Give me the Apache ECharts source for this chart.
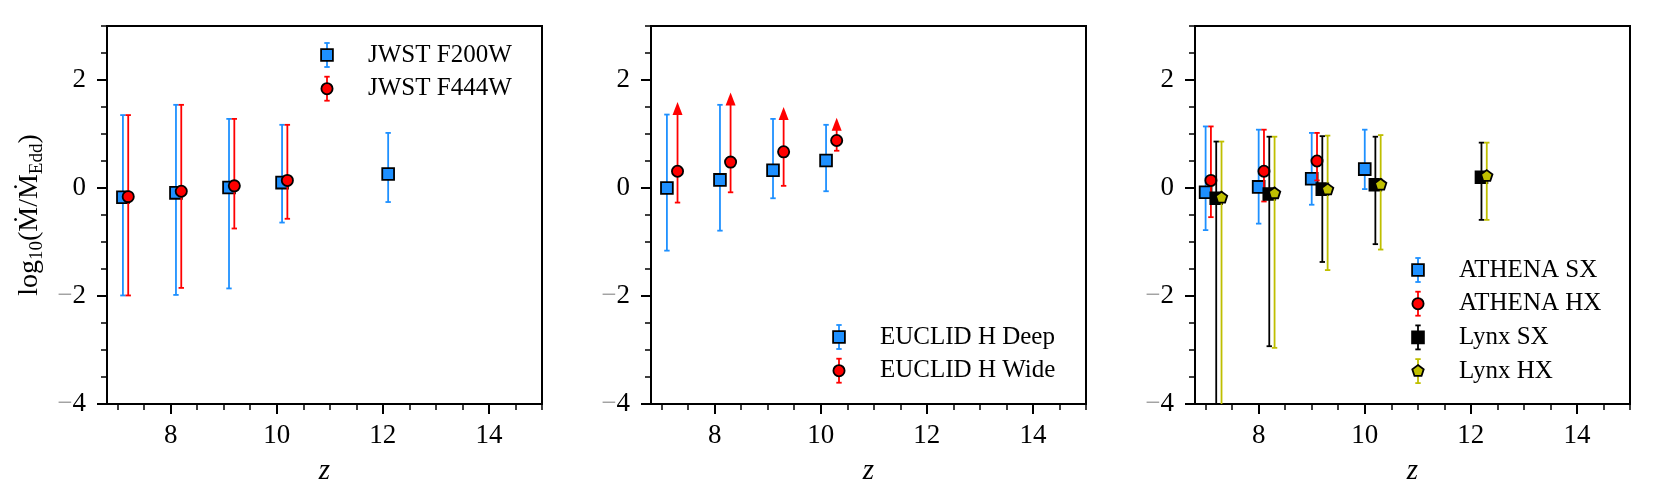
<!DOCTYPE html>
<html>
<head>
<meta charset="utf-8">
<script src="https://cdn.jsdelivr.net/npm/echarts@6/dist/echarts.min.js"></script>
<style>
  html, body { margin: 0; background: #fff; }
  #chart { width: 1671px; height: 503px; }
</style>
</head>
<body>
<div id="chart"></div>
<script>
const FONT = '"Liberation Serif", "DejaVu Serif", serif';
const BLUE = "#1e90ff";
const RED = "#ff0000";
const BLACK = "#000000";
const OLIVE = "#bfbf00";

// each point: [z, log10(Mdot/Medd), lower end of bar, upper end of bar]
const jwstF200W = [[7.1, -0.17, -1.99, 1.35], [8.1, -0.09, -1.98, 1.54], [9.1, 0.01, -1.86, 1.28], [10.1, 0.10, -0.64, 1.17], [12.1, 0.26, -0.26, 1.02]];
const jwstF444W = [[7.2, -0.16, -1.99, 1.35], [8.2, -0.06, -1.85, 1.54], [9.2, 0.04, -0.75, 1.28], [10.2, 0.14, -0.57, 1.17]];
const euclidDeep = [[7.1, 0.00, -1.16, 1.36], [8.1, 0.15, -0.79, 1.54], [9.1, 0.33, -0.19, 1.28], [10.1, 0.51, -0.06, 1.17]];
const euclidWide = [[7.3, 0.31, -0.27, 1.47], [8.3, 0.48, -0.08, 1.65], [9.3, 0.67, 0.04, 1.38], [10.3, 0.88, 0.69, 1.18]];
const athenaSX = [[7.0, -0.08, -0.78, 1.14], [8.0, 0.02, -0.66, 1.08], [9.0, 0.17, -0.31, 1.02], [10.0, 0.35, -0.02, 1.08]];
const athenaHX = [[7.1, 0.14, -0.54, 1.14], [8.1, 0.31, -0.25, 1.08], [9.1, 0.50, 0.14, 1.02]];
const lynxSX = [[7.2, -0.19, -4.5, 0.86], [8.2, -0.11, -2.93, 0.95], [9.2, -0.02, -1.37, 0.96], [10.2, 0.06, -1.04, 0.95], [12.2, 0.20, -0.59, 0.84]];
const lynxHX = [[7.3, -0.18, -4.5, 0.86], [8.3, -0.10, -2.96, 0.95], [9.3, -0.03, -1.52, 0.97], [10.3, 0.06, -1.14, 0.98], [12.3, 0.22, -0.59, 0.84]];

const zRange = [6.8, 15];
const yRange = [-4, 3];
const xMajor = [8, 10, 12, 14];
const xMinor = [7, 7.5, 8.5, 9, 9.5, 10.5, 11, 11.5, 12.5, 13, 13.5, 14.5, 15];
const yMajor = [-4, -2, 0, 2];
const yMinor = [-3.5, -3, -2.5, -1.5, -1, -0.5, 0.5, 1, 1.5, 2.5, 3];

const GRID_TOP = 26;
const GRID_W = 435;
const GRID_H = 378;

const panels = [
  {
    left: 107,
    yTitle: true,
    legend: { x: 327, y: 55 },
    sets: [
      { name: "JWST F200W", data: jwstF200W, color: BLUE, marker: "square" },
      { name: "JWST F444W", data: jwstF444W, color: RED, marker: "circle" },
    ],
  },
  {
    left: 651,
    legend: { x: 839, y: 337 },
    sets: [
      { name: "EUCLID H Deep", data: euclidDeep, color: BLUE, marker: "square" },
      { name: "EUCLID H Wide", data: euclidWide, color: RED, marker: "circle", lowerLimit: true },
    ],
  },
  {
    left: 1195,
    legend: { x: 1418, y: 270 },
    sets: [
      { name: "ATHENA SX", data: athenaSX, color: BLUE, marker: "square" },
      { name: "ATHENA HX", data: athenaHX, color: RED, marker: "circle" },
      { name: "Lynx SX", data: lynxSX, color: BLACK, marker: "square" },
      { name: "Lynx HX", data: lynxHX, color: OLIVE, marker: "pentagon" },
    ],
  },
];

function markerShape(kind, x, y, fill) {
  const style = { fill, stroke: "#000", lineWidth: 1.8 };
  if (kind === "square") {
    return { type: "rect", shape: { x: x - 5.9, y: y - 5.9, width: 11.8, height: 11.8 }, style };
  }
  if (kind === "circle") {
    return { type: "circle", shape: { cx: x, cy: y, r: 5.6 }, style };
  }
  const points = [];
  for (let k = 0; k < 5; k++) {
    const a = -Math.PI / 2 + (k * 2 * Math.PI) / 5;
    points.push([x + 6 * Math.cos(a), y + 6 * Math.sin(a)]);
  }
  return { type: "polygon", shape: { points }, style };
}

function errorGlyph(x, y, yLo, yHi, set, asLegend) {
  const bar = { stroke: set.color, lineWidth: 1.8 };
  const cap = 2.7;
  const parts = [
    { type: "line", shape: { x1: x, y1: yLo, x2: x, y2: yHi }, style: bar },
    { type: "line", shape: { x1: x - cap, y1: yLo, x2: x + cap, y2: yLo }, style: bar },
  ];
  if (set.lowerLimit && !asLegend) {
    parts.push({
      type: "polygon",
      shape: { points: [[x, yHi - 6.5], [x - 5, yHi + 6.5], [x + 5, yHi + 6.5]] },
      style: { fill: set.color },
    });
  } else {
    parts.push({ type: "line", shape: { x1: x - cap, y1: yHi, x2: x + cap, y2: yHi }, style: bar });
  }
  parts.push(markerShape(set.marker, x, y, set.color));
  return parts;
}

function tickLabel(value) {
  return value < 0 ? "{m|\u2212}{d|" + Math.abs(value) + "}" : "{d|" + value + "}";
}

const grid = [];
const xAxis = [];
const yAxis = [];
const series = [];
const graphic = [];

panels.forEach((panel, i) => {
  grid.push({
    left: panel.left, top: GRID_TOP, width: GRID_W, height: GRID_H,
    show: true, borderColor: "#000", borderWidth: 2, backgroundColor: "transparent",
  });

  const labelStyle = {
    color: "#000", fontFamily: FONT, fontSize: 27,
    rich: {
      d: { color: "#000", fontFamily: FONT, fontSize: 27 },
      m: { color: "#9c9c9c", fontFamily: FONT, fontSize: 27 },
    },
  };

  xAxis.push({
    type: "value", gridIndex: i, position: "bottom", min: zRange[0], max: zRange[1],
    axisLine: { show: false, onZero: false },
    axisTick: { show: true, length: 10, customValues: xMajor, lineStyle: { color: "#000", width: 2 } },
    axisLabel: { customValues: xMajor, margin: 18, formatter: tickLabel, ...labelStyle },
    splitLine: { show: false },
    name: "z", nameLocation: "middle", nameGap: 53,
    nameTextStyle: { fontFamily: FONT, fontSize: 29, fontStyle: "italic", color: "#000" },
  });
  xAxis.push({
    type: "value", gridIndex: i, position: "bottom", min: zRange[0], max: zRange[1],
    axisLine: { show: false, onZero: false },
    axisTick: { show: true, length: 6, customValues: xMinor, lineStyle: { color: "#000", width: 1.5 } },
    axisLabel: { show: false },
    splitLine: { show: false },
  });

  const yMain = {
    type: "value", gridIndex: i, position: "left", min: yRange[0], max: yRange[1],
    axisLine: { show: false, onZero: false },
    axisTick: { show: true, length: 10, customValues: yMajor, lineStyle: { color: "#000", width: 2 } },
    axisLabel: { customValues: yMajor, margin: 21, formatter: tickLabel, ...labelStyle },
    splitLine: { show: false },
  };
  if (panel.yTitle) {
    Object.assign(yMain, {
      name: "{t|log}{s|10}{t|(\u1E40/\u1E40}{s|Edd}{t|)}",
      nameLocation: "middle", nameRotate: 90, nameGap: 60,
      nameTextStyle: {
        color: "#000",
        rich: {
          t: { fontFamily: FONT, fontSize: 28, lineHeight: 34, color: "#000" },
          s: { fontFamily: FONT, fontSize: 19, lineHeight: 22, verticalAlign: "bottom", color: "#000" },
        },
      },
    });
  }
  yAxis.push(yMain);
  yAxis.push({
    type: "value", gridIndex: i, position: "left", min: yRange[0], max: yRange[1],
    axisLine: { show: false, onZero: false },
    axisTick: { show: true, length: 6, customValues: yMinor, lineStyle: { color: "#000", width: 1.5 } },
    axisLabel: { show: false },
    splitLine: { show: false },
  });

  panel.sets.forEach((set) => {
    series.push({
      name: set.name,
      type: "custom",
      xAxisIndex: 2 * i,
      yAxisIndex: 2 * i,
      clip: true,
      data: set.data,
      encode: { x: 0, y: 1 },
      renderItem: (params, api) => {
        const z = api.value(0);
        const p = api.coord([z, api.value(1)]);
        const lo = api.coord([z, api.value(2)]);
        const hi = api.coord([z, api.value(3)]);
        return { type: "group", children: errorGlyph(p[0], p[1], lo[1], hi[1], set, false) };
      },
    });
  });

  // legend, drawn with the same glyphs as the data
  panel.sets.forEach((set, k) => {
    const lx = panel.legend.x;
    const ly = panel.legend.y + k * 33.7;
    graphic.push({ type: "group", children: errorGlyph(lx, ly, ly + 12, ly - 12, set, true) });
    graphic.push({
      type: "text",
      style: { text: set.name, x: lx + 41, y: ly, fill: "#000", fontFamily: FONT, fontSize: 25, verticalAlign: "middle" },
    });
  });
});

const chart = echarts.init(document.getElementById("chart"), null, { renderer: "canvas" });
chart.setOption({
  animation: false,
  backgroundColor: "#fff",
  grid,
  xAxis,
  yAxis,
  series,
  graphic,
});
</script>
</body>
</html>
